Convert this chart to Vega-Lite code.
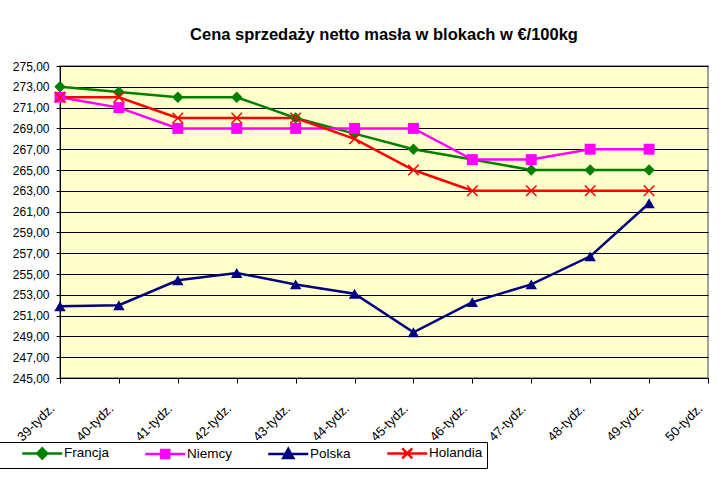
{
  "$schema": "https://vega.github.io/schema/vega-lite/v6.json",
  "autosize": "none",
  "width": 648,
  "height": 312,
  "padding": {"left": 60, "top": 66, "right": 18, "bottom": 99},
  "background": "white",
  "title": {"text": "Cena sprzedaży netto masła w blokach w €/100kg", "font": "Liberation Sans", "fontSize": 16.5, "fontWeight": "bold", "color": "black", "offset": 17, "anchor": "middle"},
  "config": {
    "view": {"fill": "#FFFFCC", "stroke": "#808080", "strokeWidth": 1.5},
    "font": "Liberation Sans"
  },
  "data": {"values": [
    {"week": "39-tydz.", "country": "Francja", "price": 273},
    {"week": "40-tydz.", "country": "Francja", "price": 272.5},
    {"week": "41-tydz.", "country": "Francja", "price": 272},
    {"week": "42-tydz.", "country": "Francja", "price": 272},
    {"week": "43-tydz.", "country": "Francja", "price": 270},
    {"week": "44-tydz.", "country": "Francja", "price": 268.5},
    {"week": "45-tydz.", "country": "Francja", "price": 267},
    {"week": "46-tydz.", "country": "Francja", "price": 266},
    {"week": "47-tydz.", "country": "Francja", "price": 265},
    {"week": "48-tydz.", "country": "Francja", "price": 265},
    {"week": "49-tydz.", "country": "Francja", "price": 265},
    {"week": "39-tydz.", "country": "Niemcy", "price": 272},
    {"week": "40-tydz.", "country": "Niemcy", "price": 271},
    {"week": "41-tydz.", "country": "Niemcy", "price": 269},
    {"week": "42-tydz.", "country": "Niemcy", "price": 269},
    {"week": "43-tydz.", "country": "Niemcy", "price": 269},
    {"week": "44-tydz.", "country": "Niemcy", "price": 269},
    {"week": "45-tydz.", "country": "Niemcy", "price": 269},
    {"week": "46-tydz.", "country": "Niemcy", "price": 266},
    {"week": "47-tydz.", "country": "Niemcy", "price": 266},
    {"week": "48-tydz.", "country": "Niemcy", "price": 267},
    {"week": "49-tydz.", "country": "Niemcy", "price": 267},
    {"week": "39-tydz.", "country": "Polska", "price": 251.9},
    {"week": "40-tydz.", "country": "Polska", "price": 252.0},
    {"week": "41-tydz.", "country": "Polska", "price": 254.4},
    {"week": "42-tydz.", "country": "Polska", "price": 255.1},
    {"week": "43-tydz.", "country": "Polska", "price": 254.0},
    {"week": "44-tydz.", "country": "Polska", "price": 253.1},
    {"week": "45-tydz.", "country": "Polska", "price": 249.4},
    {"week": "46-tydz.", "country": "Polska", "price": 252.3},
    {"week": "47-tydz.", "country": "Polska", "price": 254.0},
    {"week": "48-tydz.", "country": "Polska", "price": 256.7},
    {"week": "49-tydz.", "country": "Polska", "price": 261.8},
    {"week": "39-tydz.", "country": "Holandia", "price": 272},
    {"week": "40-tydz.", "country": "Holandia", "price": 272},
    {"week": "41-tydz.", "country": "Holandia", "price": 270},
    {"week": "42-tydz.", "country": "Holandia", "price": 270},
    {"week": "43-tydz.", "country": "Holandia", "price": 270},
    {"week": "44-tydz.", "country": "Holandia", "price": 268},
    {"week": "45-tydz.", "country": "Holandia", "price": 265},
    {"week": "46-tydz.", "country": "Holandia", "price": 263},
    {"week": "47-tydz.", "country": "Holandia", "price": 263},
    {"week": "48-tydz.", "country": "Holandia", "price": 263},
    {"week": "49-tydz.", "country": "Holandia", "price": 263}
  ]},
  "encoding": {
    "x": {"field": "week", "type": "ordinal",
      "scale": {"type": "point", "padding": 0, "domain": ["39-tydz.","40-tydz.","41-tydz.","42-tydz.","43-tydz.","44-tydz.","45-tydz.","46-tydz.","47-tydz.","48-tydz.","49-tydz.","50-tydz."]},
      "axis": {"title": null, "labelAngle": -45, "labelAlign": "right", "labelBaseline": "middle", "labelFont": "Liberation Sans", "labelFontSize": 13, "labelColor": "black", "domainColor": "black", "domainWidth": 1, "tickColor": "black", "tickSize": 5, "grid": false, "labelPadding": 23, "labelOffset": -8}},
    "y": {"field": "price", "type": "quantitative",
      "scale": {"domain": [245, 275], "nice": false, "zero": false},
      "axis": {"title": null, "values": [245,247,249,251,253,255,257,259,261,263,265,267,269,271,273,275], "labelExpr": "replace(format(datum.value, '.2f'), '.', ',')", "labelFont": "Liberation Sans", "labelFontSize": 12, "labelColor": "black", "domainColor": "black", "domainWidth": 1, "tickColor": "black", "tickSize": 4, "grid": true, "gridColor": "black", "gridWidth": 1, "gridOpacity": 1, "labelPadding": 7}},
    "color": {"field": "country", "type": "nominal",
      "scale": {"domain": ["Francja","Niemcy","Polska","Holandia"], "range": ["#008000","#FF00FF","#000080","#FF0000"]},
      "legend": {
        "title": " ", "titleOrient": "left", "titlePadding": 41, "titleFontSize": 13,
        "orient": "none", "direction": "horizontal", "legendX": -70, "legendY": 376,
        "strokeColor": "black", "fillColor": "white", "padding": 4.5,
        "labelFont": "Liberation Sans", "labelFontSize": 13.5, "labelColor": "black",
        "labelExpr": "datum.value === 'Holandia' ? 'Holandia\u00a0\u00a0\u00a0' : datum.label",
        "symbolSize": 100, "symbolOpacity": 1, "labelOffset": 15, "columnPadding": 30,
        "encode": {"symbols": {"update": {
          "shape": {"signal": "datum.value === 'Francja' ? 'M-4,0L4,0M0,-1L1,0L0,1L-1,0Z' : datum.value === 'Niemcy' ? 'M-4,0L4,0M-0.8,-0.8L0.8,-0.8L0.8,0.8L-0.8,0.8Z' : datum.value === 'Polska' ? 'M-4,0L4,0M0,-1L1,0.8L-1,0.8Z' : 'M-4,0L4,0M-1,-1L1,1M-1,1L1,-1'"},
          "stroke": {"signal": "scale('color', datum.value)"},
          "fill": {"signal": "scale('color', datum.value)"},
          "strokeWidth": {"value": 2.5},
          "opacity": {"value": 1}
        }}}
      }}
  },
  "layer": [
    {
      "mark": {"type": "line", "strokeWidth": 2.5}
    },
    {
      "transform": [{"filter": "datum.country === 'Francja'"}],
      "mark": {"type": "point", "shape": "diamond", "filled": true, "opacity": 1, "size": 130}
    },
    {
      "transform": [{"filter": "datum.country === 'Niemcy'"}],
      "mark": {"type": "point", "shape": "square", "filled": true, "opacity": 1, "size": 120}
    },
    {
      "transform": [{"filter": "datum.country === 'Polska'"}],
      "mark": {"type": "point", "shape": "triangle-up", "filled": true, "opacity": 1, "size": 130}
    },
    {
      "transform": [{"filter": "datum.country === 'Holandia'"}],
      "mark": {"type": "point", "shape": "M-1,-1L1,1M-1,1L1,-1", "filled": false, "opacity": 1, "size": 110, "strokeWidth": 1.5}
    }
  ]
}
